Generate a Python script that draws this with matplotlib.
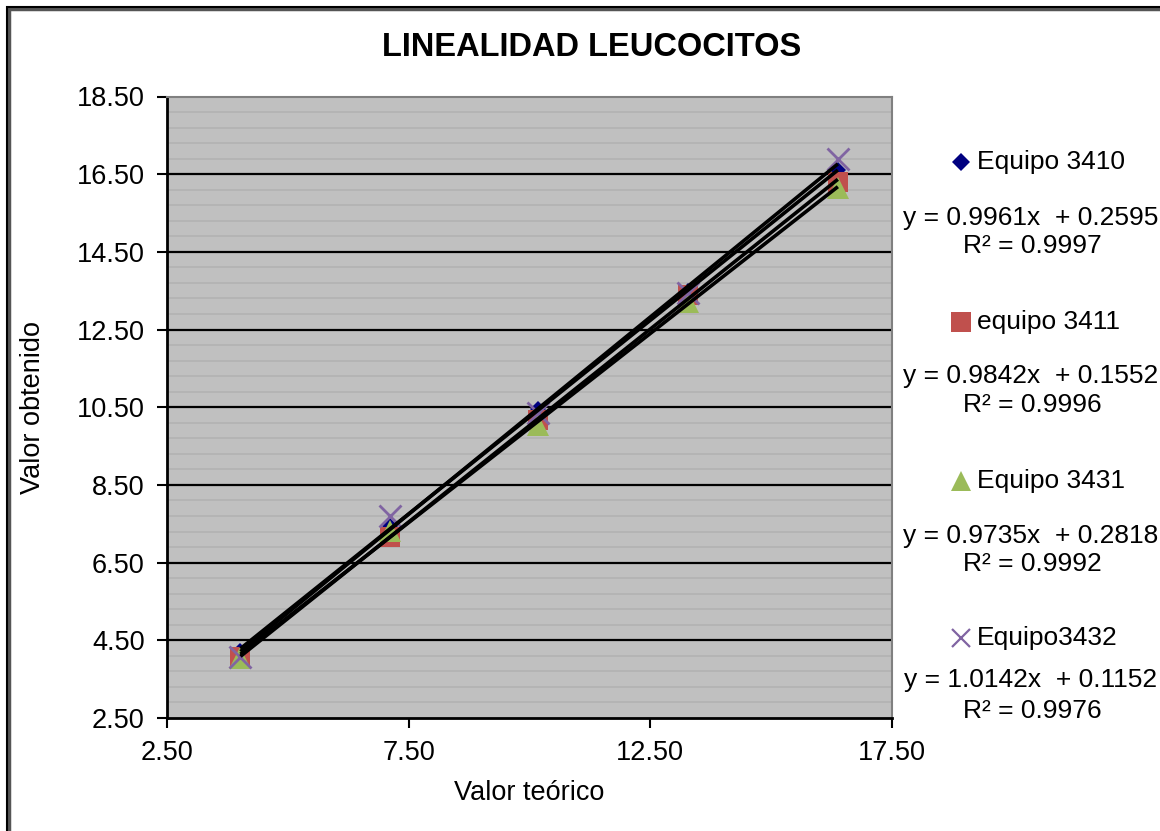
import numpy as np
import matplotlib
matplotlib.use("Agg")
import matplotlib.pyplot as plt
from matplotlib.lines import Line2D
from matplotlib.patches import Rectangle

plt.rcParams['font.family'] = ['Liberation Sans', 'DejaVu Sans']

# ---- data ----
x_teorico = [4.02, 7.11, 10.18, 13.28, 16.38]
equipo_3410 = [4.22, 7.45, 10.45, 13.48, 16.60]
equipo_3411 = [4.08, 7.15, 10.18, 13.40, 16.30]
equipo_3431 = [4.05, 7.32, 10.05, 13.20, 16.15]
equipo_3432 = [4.06, 7.70, 10.34, 13.43, 16.88]

series_names = ["Equipo 3410", "equipo 3411", "Equipo 3431", "Equipo3432"]
equations = ["y = 0.9961x  + 0.2595", "y = 0.9842x  + 0.1552",
             "y = 0.9735x  + 0.2818", "y = 1.0142x  + 0.1152"]
r2_texts = ["R² = 0.9997", "R² = 0.9996", "R² = 0.9992", "R² = 0.9976"]

x_ticks = [2.5, 7.5, 12.5, 17.5]
y_ticks = [2.5, 4.5, 6.5, 8.5, 10.5, 12.5, 14.5, 16.5, 18.5]

W, H = 1160, 831
fig = plt.figure(figsize=(W / 100, H / 100), dpi=100)
fig.patch.set_facecolor("white")

# outer border with shadow
fig.add_artist(Rectangle((9 / W, -0.1), 1.2, 1 - 9 / H + 0.1, transform=fig.transFigure,
                         fill=False, edgecolor="#555555", lw=2.5, clip_on=False))
fig.add_artist(Rectangle((7 / W, -0.1), 1.2, 1 - 7 / H + 0.1, transform=fig.transFigure,
                         fill=False, edgecolor="black", lw=1.5, clip_on=False))

L, R, T, B = 167, 892, 96.5, 718
ax = fig.add_axes([L / W, 1 - B / H, (R - L) / W, (B - T) / H])
ax.set_facecolor("#c0c0c0")
ax.set_xlim(2.5, 17.5)
ax.set_ylim(2.5, 18.5)

# minor grid every 0.4
for v in np.arange(2.5, 18.5 + 1e-9, 0.4):
    ax.axhline(v, color="#b2b2b2", lw=1.2, zorder=0.5)
for v in y_ticks[1:-1]:
    ax.axhline(v, color="black", lw=1.6, zorder=1)

ax.set_xticks(x_ticks)
ax.set_yticks(y_ticks)
ax.set_xticklabels([f"{v:.2f}" for v in x_ticks])
ax.set_yticklabels([f"{v:.2f}" for v in y_ticks])
ax.tick_params(direction="out", length=7, width=1.5, labelsize=19.5)
ax.tick_params(axis="y", pad=9)
ax.tick_params(axis="x", pad=9)
for s in ["left", "bottom"]:
    ax.spines[s].set_color("black")
    ax.spines[s].set_linewidth(2)
for s in ["top", "right"]:
    ax.spines[s].set_color("#808080")
    ax.spines[s].set_linewidth(1.5)

ys = [equipo_3410, equipo_3411, equipo_3431, equipo_3432]
styles = [
    dict(marker="D", color="#000080", ms=8, mew=0),
    dict(marker="s", color="#C0504D", ms=15, mew=0),
    dict(marker="^", color="#9BBB59", ms=16, mew=0),
    dict(marker="x", color="#8064A2", ms=16, mew=2),
]
for y, st in zip(ys, styles):
    ax.plot(x_teorico, y, linestyle="none", zorder=3, **st)

xr = np.array([min(x_teorico), max(x_teorico)])
for y in ys:
    m, b = np.polyfit(x_teorico, y, 1)
    ax.plot(xr, m * xr + b, color="black", lw=2.6, zorder=4, solid_capstyle="butt")

ax.set_xlabel("Valor teórico", fontsize=19.5, labelpad=10)
ax.set_ylabel("Valor obtenido", fontsize=19.5, labelpad=22)

fig.text(592 / W, 1 - 47 / H, "LINEALIDAD LEUCOCITOS", fontsize=23.5, fontweight="bold",
         ha="center", va="center")

# legend
leg_styles = [
    dict(marker="D", color="#000080", ms=9, mew=0),
    dict(marker="s", color="#C0504D", ms=14, mew=0),
    dict(marker="^", color="#9BBB59", ms=15, mew=0),
    dict(marker="x", color="#8064A2", ms=13, mew=1.6),
]
leg_rows = [162, 322, 481, 638]
eq_rows = [218, 376, 536, 680]
r2_rows = [246, 405, 564, 711]
for i in range(4):
    fig.add_artist(Line2D([961 / W], [1 - leg_rows[i] / H], transform=fig.transFigure,
                          linestyle="none", **leg_styles[i]))
    fig.text(977 / W, 1 - leg_rows[i] / H, series_names[i], fontsize=19, ha="left", va="center")
    fig.text(1031 / W, 1 - eq_rows[i] / H, equations[i], fontsize=19, ha="center", va="center")
    fig.text(1032 / W, 1 - r2_rows[i] / H, r2_texts[i], fontsize=19, ha="center", va="center")

fig.savefig("out.png", dpi=100)
